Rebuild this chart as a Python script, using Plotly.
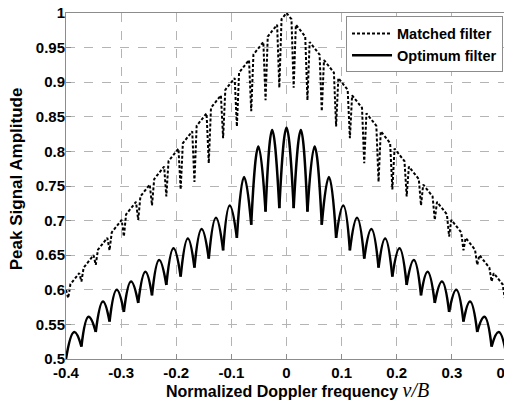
import plotly.graph_objects as go

## Values (nu = normalized Doppler frequency)

# optimum filter: arch tops and the cusps between them
of_peak_nu = [-0.385, -0.359, -0.333, -0.308, -0.282, -0.256, -0.231, -0.205, -0.179, -0.154, -0.128,
              -0.103, -0.077, -0.051, -0.026, 0.0, 0.026, 0.051, 0.077, 0.103, 0.128, 0.154, 0.179,
              0.205, 0.231, 0.256, 0.282, 0.308, 0.333, 0.359, 0.385]
of_peak = [0.539, 0.561, 0.583, 0.600, 0.612, 0.626, 0.643, 0.660, 0.674, 0.688, 0.704,
           0.722, 0.763, 0.807, 0.831, 0.834, 0.831, 0.807, 0.763, 0.722, 0.704, 0.688, 0.674,
           0.660, 0.643, 0.626, 0.612, 0.600, 0.583, 0.561, 0.539]
of_cusp_nu = [-0.400, -0.372, -0.346, -0.321, -0.295, -0.269, -0.244, -0.218, -0.192, -0.167, -0.141,
              -0.115, -0.090, -0.064, -0.038, -0.013, 0.013, 0.038, 0.064, 0.090, 0.115, 0.141, 0.167,
              0.192, 0.218, 0.244, 0.269, 0.295, 0.321, 0.346, 0.372, 0.400]
of_cusp = [0.500, 0.518, 0.539, 0.554, 0.568, 0.581, 0.592, 0.607, 0.619, 0.632, 0.645,
           0.657, 0.675, 0.694, 0.713, 0.718, 0.718, 0.713, 0.694, 0.675, 0.657, 0.645, 0.632,
           0.619, 0.607, 0.592, 0.581, 0.568, 0.554, 0.539, 0.518, 0.500]

# matched filter: tops on the 1-|nu| line, with narrow notches in between
mf_peak_nu = of_peak_nu
mf_peak = [0.615, 0.641, 0.667, 0.692, 0.718, 0.744, 0.769, 0.795, 0.821, 0.846, 0.872,
           0.897, 0.923, 0.949, 0.974, 1.000, 0.974, 0.949, 0.923, 0.897, 0.872, 0.846, 0.821,
           0.795, 0.769, 0.744, 0.718, 0.692, 0.667, 0.641, 0.615]
# notch: left rim, bottom, right rim
mf_rim_lo_nu = [-0.400, -0.376, -0.350, -0.325, -0.299, -0.273, -0.248, -0.222, -0.196, -0.171, -0.145,
                -0.119, -0.094, -0.068, -0.042, -0.017, 0.009, 0.034, 0.060, 0.086, 0.111, 0.137, 0.163,
                0.188, 0.214, 0.240, 0.265, 0.291, 0.317, 0.342, 0.368, 0.392]
mf_rim_lo = [0.600, 0.624, 0.650, 0.675, 0.701, 0.727, 0.752, 0.778, 0.804, 0.829, 0.855,
             0.881, 0.906, 0.932, 0.958, 0.983, 0.991, 0.966, 0.940, 0.914, 0.889, 0.863, 0.837,
             0.812, 0.786, 0.760, 0.735, 0.709, 0.683, 0.658, 0.632, 0.608]
mf_dip_nu = [-0.396, -0.372, -0.346, -0.321, -0.295, -0.269, -0.244, -0.218, -0.192, -0.167, -0.141,
             -0.115, -0.090, -0.064, -0.038, -0.013, 0.013, 0.038, 0.064, 0.090, 0.115, 0.141, 0.167,
             0.192, 0.218, 0.244, 0.269, 0.295, 0.321, 0.346, 0.372, 0.396]
mf_dip = [0.588, 0.612, 0.636, 0.657, 0.677, 0.701, 0.722, 0.735, 0.745, 0.756, 0.783,
          0.819, 0.836, 0.858, 0.874, 0.892, 0.892, 0.874, 0.858, 0.836, 0.819, 0.783, 0.756,
          0.745, 0.735, 0.722, 0.701, 0.677, 0.657, 0.636, 0.612, 0.588]
mf_rim_hi_nu = [-0.392, -0.368, -0.342, -0.317, -0.291, -0.265, -0.240, -0.214, -0.188, -0.163, -0.137,
                -0.111, -0.086, -0.060, -0.034, -0.009, 0.017, 0.042, 0.068, 0.094, 0.119, 0.145, 0.171,
                0.196, 0.222, 0.248, 0.273, 0.299, 0.325, 0.350, 0.376, 0.400]
mf_rim_hi = [0.608, 0.632, 0.658, 0.683, 0.709, 0.735, 0.760, 0.786, 0.812, 0.837, 0.863,
             0.889, 0.914, 0.940, 0.966, 0.991, 0.983, 0.958, 0.932, 0.906, 0.881, 0.855, 0.829,
             0.804, 0.778, 0.752, 0.727, 0.701, 0.675, 0.650, 0.624, 0.600]

x_ticks = [-0.4, -0.3, -0.2, -0.1, 0, 0.1, 0.2, 0.3, 0.4]
y_ticks = [0.5, 0.55, 0.6, 0.65, 0.7, 0.75, 0.8, 0.85, 0.9, 0.95, 1]

## optimum filter: each arch is cusp -> top -> cusp, broken with None so the cusps stay sharp
ox, oy = [], []
for i in range(len(of_peak_nu)):
    ox += [of_cusp_nu[i], of_peak_nu[i], of_cusp_nu[i + 1], None]
    oy += [of_cusp[i], of_peak[i], of_cusp[i + 1], None]

## matched filter: notch, top, notch, top ... as one polyline
mx, my = [], []
for i in range(len(mf_dip_nu)):
    mx += [mf_rim_lo_nu[i], mf_dip_nu[i], mf_rim_hi_nu[i]]
    my += [mf_rim_lo[i], mf_dip[i], mf_rim_hi[i]]
    if i < len(mf_peak_nu):
        mx.append(mf_peak_nu[i])
        my.append(mf_peak[i])

fig = go.Figure()
fig.add_trace(go.Scatter(x=mx, y=my, mode='lines', name='Matched filter',
                         line=dict(color='black', width=2, dash='3px,2px')))
fig.add_trace(go.Scatter(x=ox, y=oy, mode='lines', name='Optimum filter', connectgaps=False,
                         line=dict(color='black', width=2.5, shape='spline', smoothing=1.3)))

axis_style = dict(showline=True, linewidth=1, linecolor='#8c8c8c', mirror=True, automargin=False,
                  ticks='inside', ticklen=5, tickcolor='#8c8c8c', ticklabeloverflow='allow',
                  showgrid=True, gridcolor='#b4b4b4', gridwidth=1, griddash='dash', zeroline=False,
                  tickfont=dict(family='Liberation Sans', size=15, color='black', weight='bold'))

fig.update_xaxes(range=[-0.4, 0.4], tickvals=x_ticks, ticktext=[str(v) for v in x_ticks], **axis_style)
fig.update_yaxes(range=[0.5, 1.0], tickvals=y_ticks, ticktext=[str(v) for v in y_ticks],
                 ticklabelstandoff=-3, **axis_style)

fig.add_annotation(xref='paper', yref='paper', x=0.524, y=-0.09, xanchor='center', yanchor='middle',
                   showarrow=False,
                   text="<b>Normalized Doppler frequency</b> "
                        "<span style='font-family:Liberation Serif;font-size:20px'><i>ν/B</i></span>",
                   font=dict(family='Liberation Sans', size=16, color='black'))
fig.add_annotation(xref='paper', yref='paper', x=-0.113, y=0.52, xanchor='center', yanchor='middle',
                   showarrow=False, textangle=-90, text='<b>Peak Signal Amplitude</b>',
                   font=dict(family='Liberation Sans', size=17, color='black'))

# the page body adds an 8px offset, so the figure is drawn 8px smaller with matching margins
fig.update_layout(width=504, height=394, margin=dict(l=58, r=5, t=5, b=43),
                  plot_bgcolor='white', paper_bgcolor='white',
                  legend=dict(x=0.991, y=0.99, xanchor='right', yanchor='top', itemwidth=40,
                              bgcolor='white', bordercolor='#8c8c8c', borderwidth=1,
                              font=dict(family='Liberation Sans', size=14.5, color='black', weight='bold')))
fig.write_html("out.html")
